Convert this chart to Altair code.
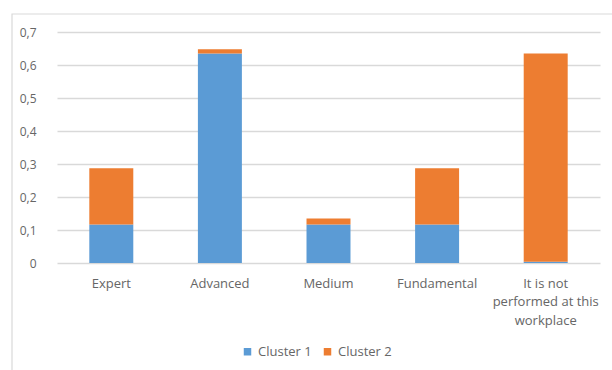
import altair as alt
import pandas as pd

categories = ["Expert", "Advanced", "Medium", "Fundamental", "It is not|performed at this|workplace"]
cluster1 = [0.117, 0.635, 0.117, 0.117, 0.004]
cluster2 = [0.170, 0.013, 0.018, 0.170, 0.631]
series = ["Cluster 1", "Cluster 2"]
colors = ["#5B9BD5", "#ED7D31"]

rows = []
for i, c in enumerate(categories):
    rows.append({"cat": c, "series": series[0], "value": cluster1[i], "ord": 0})
    rows.append({"cat": c, "series": series[1], "value": cluster2[i], "ord": 1})
df = pd.DataFrame(rows)

FONT = "Open Sans"
LABEL = "#666666"

bars = alt.Chart(df).mark_bar().encode(
    x=alt.X("cat:N", sort=categories, title=None,
            scale=alt.Scale(paddingInner=0.595, paddingOuter=0.2975),
            axis=alt.Axis(labelAngle=0, domain=False, ticks=False, labelPadding=14,
                          labelExpr="split(datum.label, '|')", labelLineHeight=18.5,
                          labelFont=FONT, labelFontSize=13, labelColor=LABEL)),
    y=alt.Y("value:Q", stack="zero", title=None,
            scale=alt.Scale(domain=[0, 0.7]),
            axis=alt.Axis(values=[0, 0.1, 0.2, 0.3, 0.4, 0.5, 0.6, 0.7],
                          labelExpr="datum.value == 0 ? '0' : replace(format(datum.value, '.1f'), '.', ',')",
                          domain=False, ticks=False, labelPadding=21,
                          grid=True, gridColor="#D9D9D9", gridWidth=1.3,
                          labelFont=FONT, labelFontSize=12, labelColor=LABEL)),
    color=alt.Color("series:N", scale=alt.Scale(domain=series, range=colors),
                    legend=alt.Legend(title=None, orient="none", direction="horizontal",
                                      legendX=184, legendY=313, symbolType="square",
                                      symbolSize=56, symbolStrokeWidth=0,
                                      labelFont=FONT, labelFontSize=13, labelColor=LABEL,
                                      columnPadding=9, symbolOffset=0, labelOffset=4)),
    order=alt.Order("ord:Q", sort="ascending"),
)

frame = alt.Chart(pd.DataFrame({"a": [0]})).mark_rect(
    fill=None, stroke="#D9D9D9", strokeWidth=1.2
).encode(
    x=alt.value(-45), x2=alt.value(600),
    y=alt.value(-18), y2=alt.value(400),
)

chart = alt.layer(frame, bars).properties(
    width=543, height=231,
    padding={"left": 57, "top": 32, "right": 12, "bottom": 107},
    autosize=alt.AutoSizeParams(type="none"),
    background="white",
).configure_view(stroke=None)

chart.save("out.html", embed_options={"renderer": "svg", "actions": False})
